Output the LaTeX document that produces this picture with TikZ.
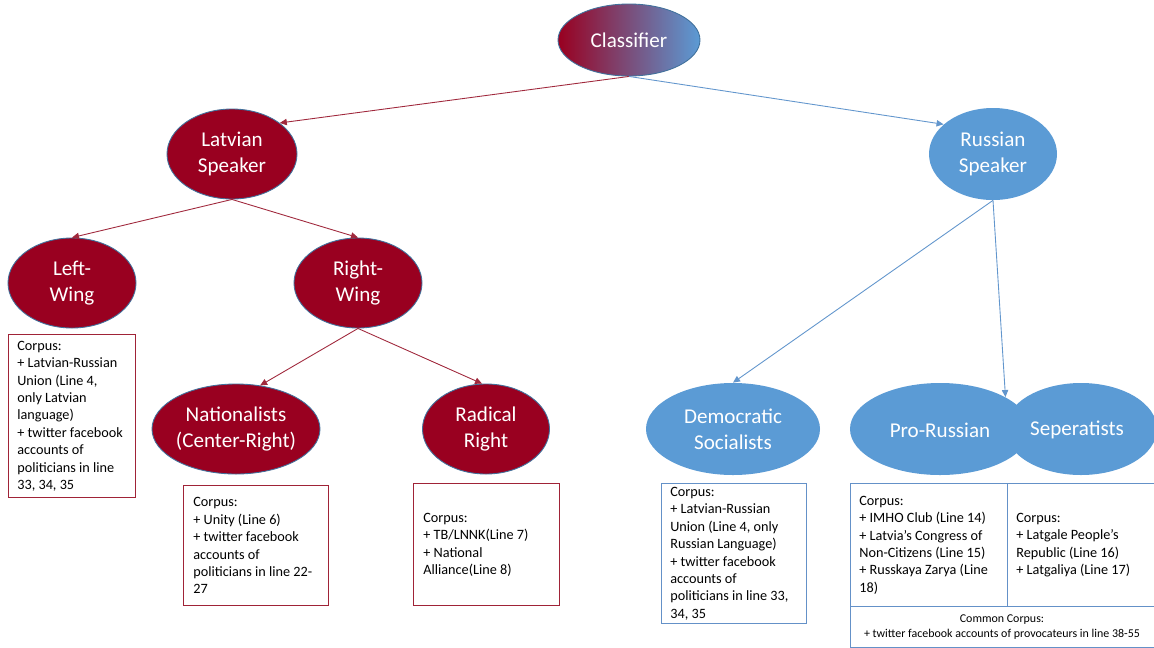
\documentclass[tikz,border=0pt]{standalone}
\usepackage{fontspec}
\setmainfont{Carlito}
\usetikzlibrary{shapes.geometric,arrows.meta}
\definecolor{lvred}{RGB}{153,0,32}
\definecolor{rublue}{RGB}{91,155,213}
\definecolor{edgeblue}{RGB}{65,113,156}
\definecolor{redline}{RGB}{160,40,60}
\definecolor{blueline}{RGB}{98,150,205}
\definecolor{redbox}{RGB}{160,35,55}
\definecolor{bluebox}{RGB}{100,145,200}
\tikzset{
  ellbase/.style={ellipse, inner sep=0pt},
  redell/.style={ellbase, fill=lvred, draw=edgeblue, line width=0.5pt},
  blueell/.style={ellbase, fill=rublue},
  etxt/.style={text=white, align=center, font=\fontsize{12}{14.7}\selectfont, inner sep=0pt},
  corpus/.style={rectangle, draw, line width=0.8pt, inner sep=0pt, anchor=north west},
  redbx/.style={corpus, draw=redbox},
  bluebx/.style={corpus, draw=bluebox},
  btxt/.style={align=left, anchor=west, inner sep=0pt, font=\fontsize{8.1}{9.9}\selectfont},
  rline/.style={draw=redline, line width=0.5pt, -{Triangle[length=4pt,width=3.6pt]}},
  bline/.style={draw=blueline, line width=0.5pt, -{Triangle[length=4pt,width=3.6pt]}},
}
\begin{document}
\begin{tikzpicture}[x=0.02cm,y=-0.02cm]
\clip (0,0) rectangle (1154,647);
\fill[white] (0,0) rectangle (1154,647);

% ellipses
\node[ellbase, left color=lvred, right color=rublue, draw=edgeblue, line width=0.5pt,
      minimum width=142*0.02cm, minimum height=72*0.02cm] (cls) at (629,40) {};
\node[etxt] (clsT) at (cls.center) {Classifier};

\node[redell, minimum width=130*0.02cm, minimum height=90*0.02cm] (lat) at (232,154) {};
\node[etxt] (latT) at (lat.center) {Latvian\\Speaker};

\node[blueell, minimum width=128*0.02cm, minimum height=92*0.02cm] (rus) at (993,154) {};
\node[etxt] (rusT) at (rus.center) {Russian\\Speaker};

\node[redell, minimum width=128*0.02cm, minimum height=90*0.02cm] (lw) at (72,283) {};
\node[etxt] (lwT) at (lw.center) {Left-\\Wing};

\node[redell, minimum width=128*0.02cm, minimum height=90*0.02cm] (rw) at (358,283) {};
\node[etxt] (rwT) at (rw.center) {Right-\\Wing};

\node[redell, minimum width=168*0.02cm, minimum height=90*0.02cm] (nat) at (236,429) {};
\node[etxt] (natT) at (nat.center) {Nationalists\\(Center-Right)};

\node[redell, minimum width=127*0.02cm, minimum height=90*0.02cm] (rad) at (486,429) {};
\node[etxt] (radT) at (rad.center) {Radical\\Right};

\node[blueell, minimum width=174*0.02cm, minimum height=92*0.02cm] (ds) at (733,429) {};
\node[etxt] (dsT) at (ds.center) {Democratic\\Socialists};

\node[blueell, minimum width=180*0.02cm, minimum height=92*0.02cm] (pr) at (940,429) {};
\node[blueell, minimum width=152*0.02cm, minimum height=92*0.02cm] (sep) at (1081,429) {};
\node[etxt] (prT) at (940,430) {Pro-Russian};
\node[etxt] (sepT) at (1077,430) {Seperatists};

% connectors
\draw[rline] (cls.south) -- (lat.33);
\draw[bline] (cls.south) -- (rus.149);
\draw[rline] (lat.south) -- (lw.north);
\draw[rline] (lat.south) -- (rw.north);
\draw[rline] (rw.south) -- (nat.61);
\draw[rline] (rw.south) -- (rad.95);
\draw[bline] (rus.south) -- (ds.north);
\draw[bline] (rus.south) -- (pr.26);

% corpus boxes
\node[redbx, minimum width=127*0.02cm, minimum height=163*0.02cm] (lwB) at (8,334) {};
\node[btxt, xshift=9*0.02cm] (lwBT) at (lwB.west)
  {Corpus:\\+ Latvian-Russian\\Union (Line 4,\\only Latvian\\language)\\+ twitter facebook\\accounts of\\politicians in line\\33, 34, 35};

\node[redbx, minimum width=145*0.02cm, minimum height=120*0.02cm] (natB) at (183,485) {};
\node[btxt, xshift=10*0.02cm] (natBT) at (natB.west)
  {Corpus:\\+ Unity (Line 6)\\+ twitter facebook\\accounts of\\politicians in line 22-\\27};

\node[redbx, minimum width=146*0.02cm, minimum height=122*0.02cm] (radB) at (413,483) {};
\node[btxt, xshift=10*0.02cm] (radBT) at (radB.west)
  {Corpus:\\+ TB/LNNK(Line 7)\\+ National\\Alliance(Line 8)};

\node[bluebx, minimum width=145*0.02cm, minimum height=140*0.02cm] (dsB) at (661,483) {};
\node[btxt, xshift=9*0.02cm] (dsBT) at (dsB.west)
  {Corpus:\\+ Latvian-Russian\\Union (Line 4, only\\Russian Language)\\+ twitter facebook\\accounts of\\politicians in line 33,\\34, 35};

\node[bluebx, minimum width=157*0.02cm, minimum height=123*0.02cm] (prB) at (850,483) {};
\node[btxt, xshift=9*0.02cm] (prBT) at (prB.west)
  {Corpus:\\+ IMHO Club (Line 14)\\+ Latvia's Congress of\\Non-Citizens (Line 15)\\+ Russkaya Zarya (Line\\18)};

\node[bluebx, minimum width=153*0.02cm, minimum height=123*0.02cm] (sepB) at (1007,483) {};
\node[btxt, xshift=9*0.02cm] (sepBT) at (sepB.west)
  {Corpus:\\+ Latgale People’s\\Republic (Line 16)\\+ Latgaliya (Line 17)};

\node[bluebx, minimum width=310*0.02cm, minimum height=41*0.02cm] (comB) at (850,606) {};
\node[align=center, inner sep=0pt, font=\fontsize{6.8}{8.6}\selectfont] (comBT) at (1002,627)
  {Common Corpus:\\+ twitter facebook accounts of provocateurs in line 38-55};
\end{tikzpicture}
\end{document}
